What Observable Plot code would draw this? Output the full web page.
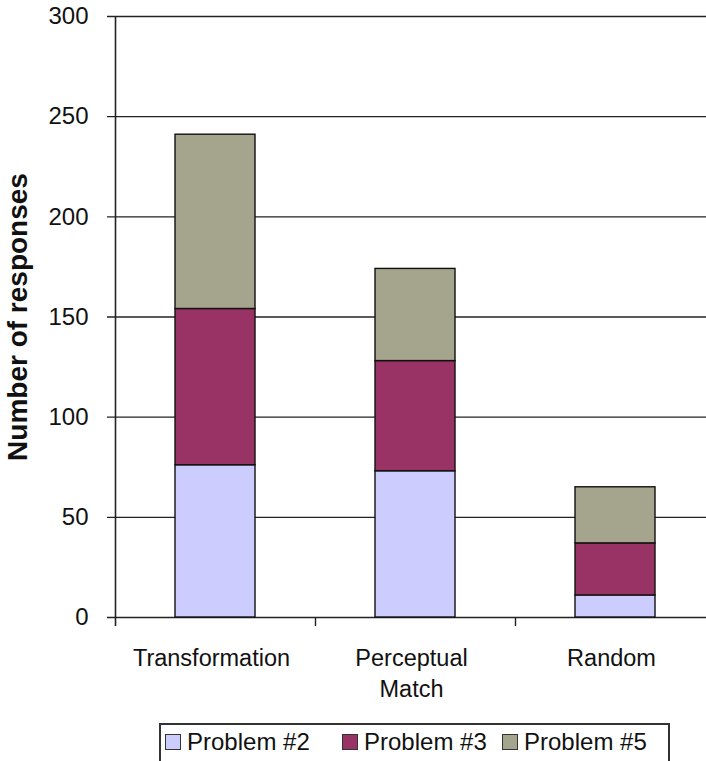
<!DOCTYPE html>
<html>
<head>
<meta charset="utf-8">
<script src="https://cdn.jsdelivr.net/npm/d3@7"></script>
<script src="https://cdn.jsdelivr.net/npm/@observablehq/plot@0.6"></script>
<style>
  html, body { margin: 0; padding: 0; background: #fff; }
  body { width: 706px; height: 761px; overflow: hidden; font-family: "Liberation Sans", Arial, sans-serif; color: #111; }
  #chart svg { display: block; }
  .legend { position: relative; margin-left: 159px; margin-top: 3px; width: 511px; height: 60px;
    border: 2px solid #333; box-sizing: border-box; font-size: 24px; }
  .legend .item { position: absolute; top: 4px; display: flex; align-items: center; height: 26px; white-space: nowrap; }
  .legend .sw { width: 16px; height: 16px; border: 1.5px solid #333; box-sizing: border-box; margin-right: 6px; }
</style>
</head>
<body>
<div id="chart"></div>
<div class="legend" id="legend"></div>
<script>
const categories = ["Transformation", "Perceptual Match", "Random"];
const tickLabels = ["Transformation", "Perceptual\nMatch", "Random"];
const series = ["Problem #2", "Problem #3", "Problem #5"];
const problem2 = [76, 73, 11];
const problem3 = [78, 55, 26];
const problem5 = [87, 46, 28];
const yTicks = [0, 50, 100, 150, 200, 250, 300];
const colors = ["#ccccff", "#993366", "#a5a48c"];

const values = [problem2, problem3, problem5];
const rows = [];
series.forEach((s, si) => categories.forEach((c, ci) => rows.push({series: s, category: c, value: values[si][ci]})));

const ink = "#222";
const chart = Plot.plot({
  width: 706,
  height: 720,
  marginTop: 16,
  marginBottom: 103,
  marginLeft: 115,
  marginRight: 0,
  style: {fontFamily: "'Liberation Sans', Arial, sans-serif", background: "white", color: "#111"},
  x: {domain: categories, range: [115, 715], paddingInner: 0.6, paddingOuter: 0.3, axis: null},
  y: {domain: [0, 300], axis: null},
  color: {domain: series, range: colors},
  marks: [
    Plot.ruleY(yTicks, {y: d => d, stroke: ink, strokeWidth: 1.4, insetLeft: -8}),
    Plot.ruleX([categories[0]], {x: d => d, y1: () => 300, y2: () => 0, dx: -100, stroke: ink, strokeWidth: 1.6, insetBottom: -9}),
    Plot.ruleX(categories.slice(1), {x: d => d, y1: () => 0, y2: () => 0, dx: -100, stroke: ink, strokeWidth: 1.4, insetBottom: -9}),
    Plot.barY(rows, {x: "category", y: "value", fill: "series", stroke: "#111", strokeWidth: 1.4}),
    Plot.axisY(yTicks, {tickSize: 0, tickPadding: 27, fontSize: 24, label: null, fill: "#111"}),
    Plot.axisY({ticks: [], tickSize: 0, label: "Number of responses", labelAnchor: "center", labelArrow: "none", labelOffset: 108, fontSize: 28, fontWeight: "bold", fill: "#111"}),
    Plot.text(categories, {x: d => d, y: () => 0, text: (d, i) => tickLabels[i], lineAnchor: "top", dy: 26, dx: -4, fontSize: 23.5, lineHeight: 1.33, fill: "#111"})
  ]
});
document.getElementById("chart").appendChild(chart);

const legend = document.getElementById("legend");
const lefts = [4, 181, 341];
series.forEach((s, i) => {
  const item = document.createElement("div");
  item.className = "item";
  item.style.left = lefts[i] + "px";
  const sw = document.createElement("span");
  sw.className = "sw";
  sw.style.background = colors[i];
  item.appendChild(sw);
  const t = document.createElement("span");
  t.textContent = s;
  item.appendChild(t);
  legend.appendChild(item);
});
</script>
</body>
</html>
